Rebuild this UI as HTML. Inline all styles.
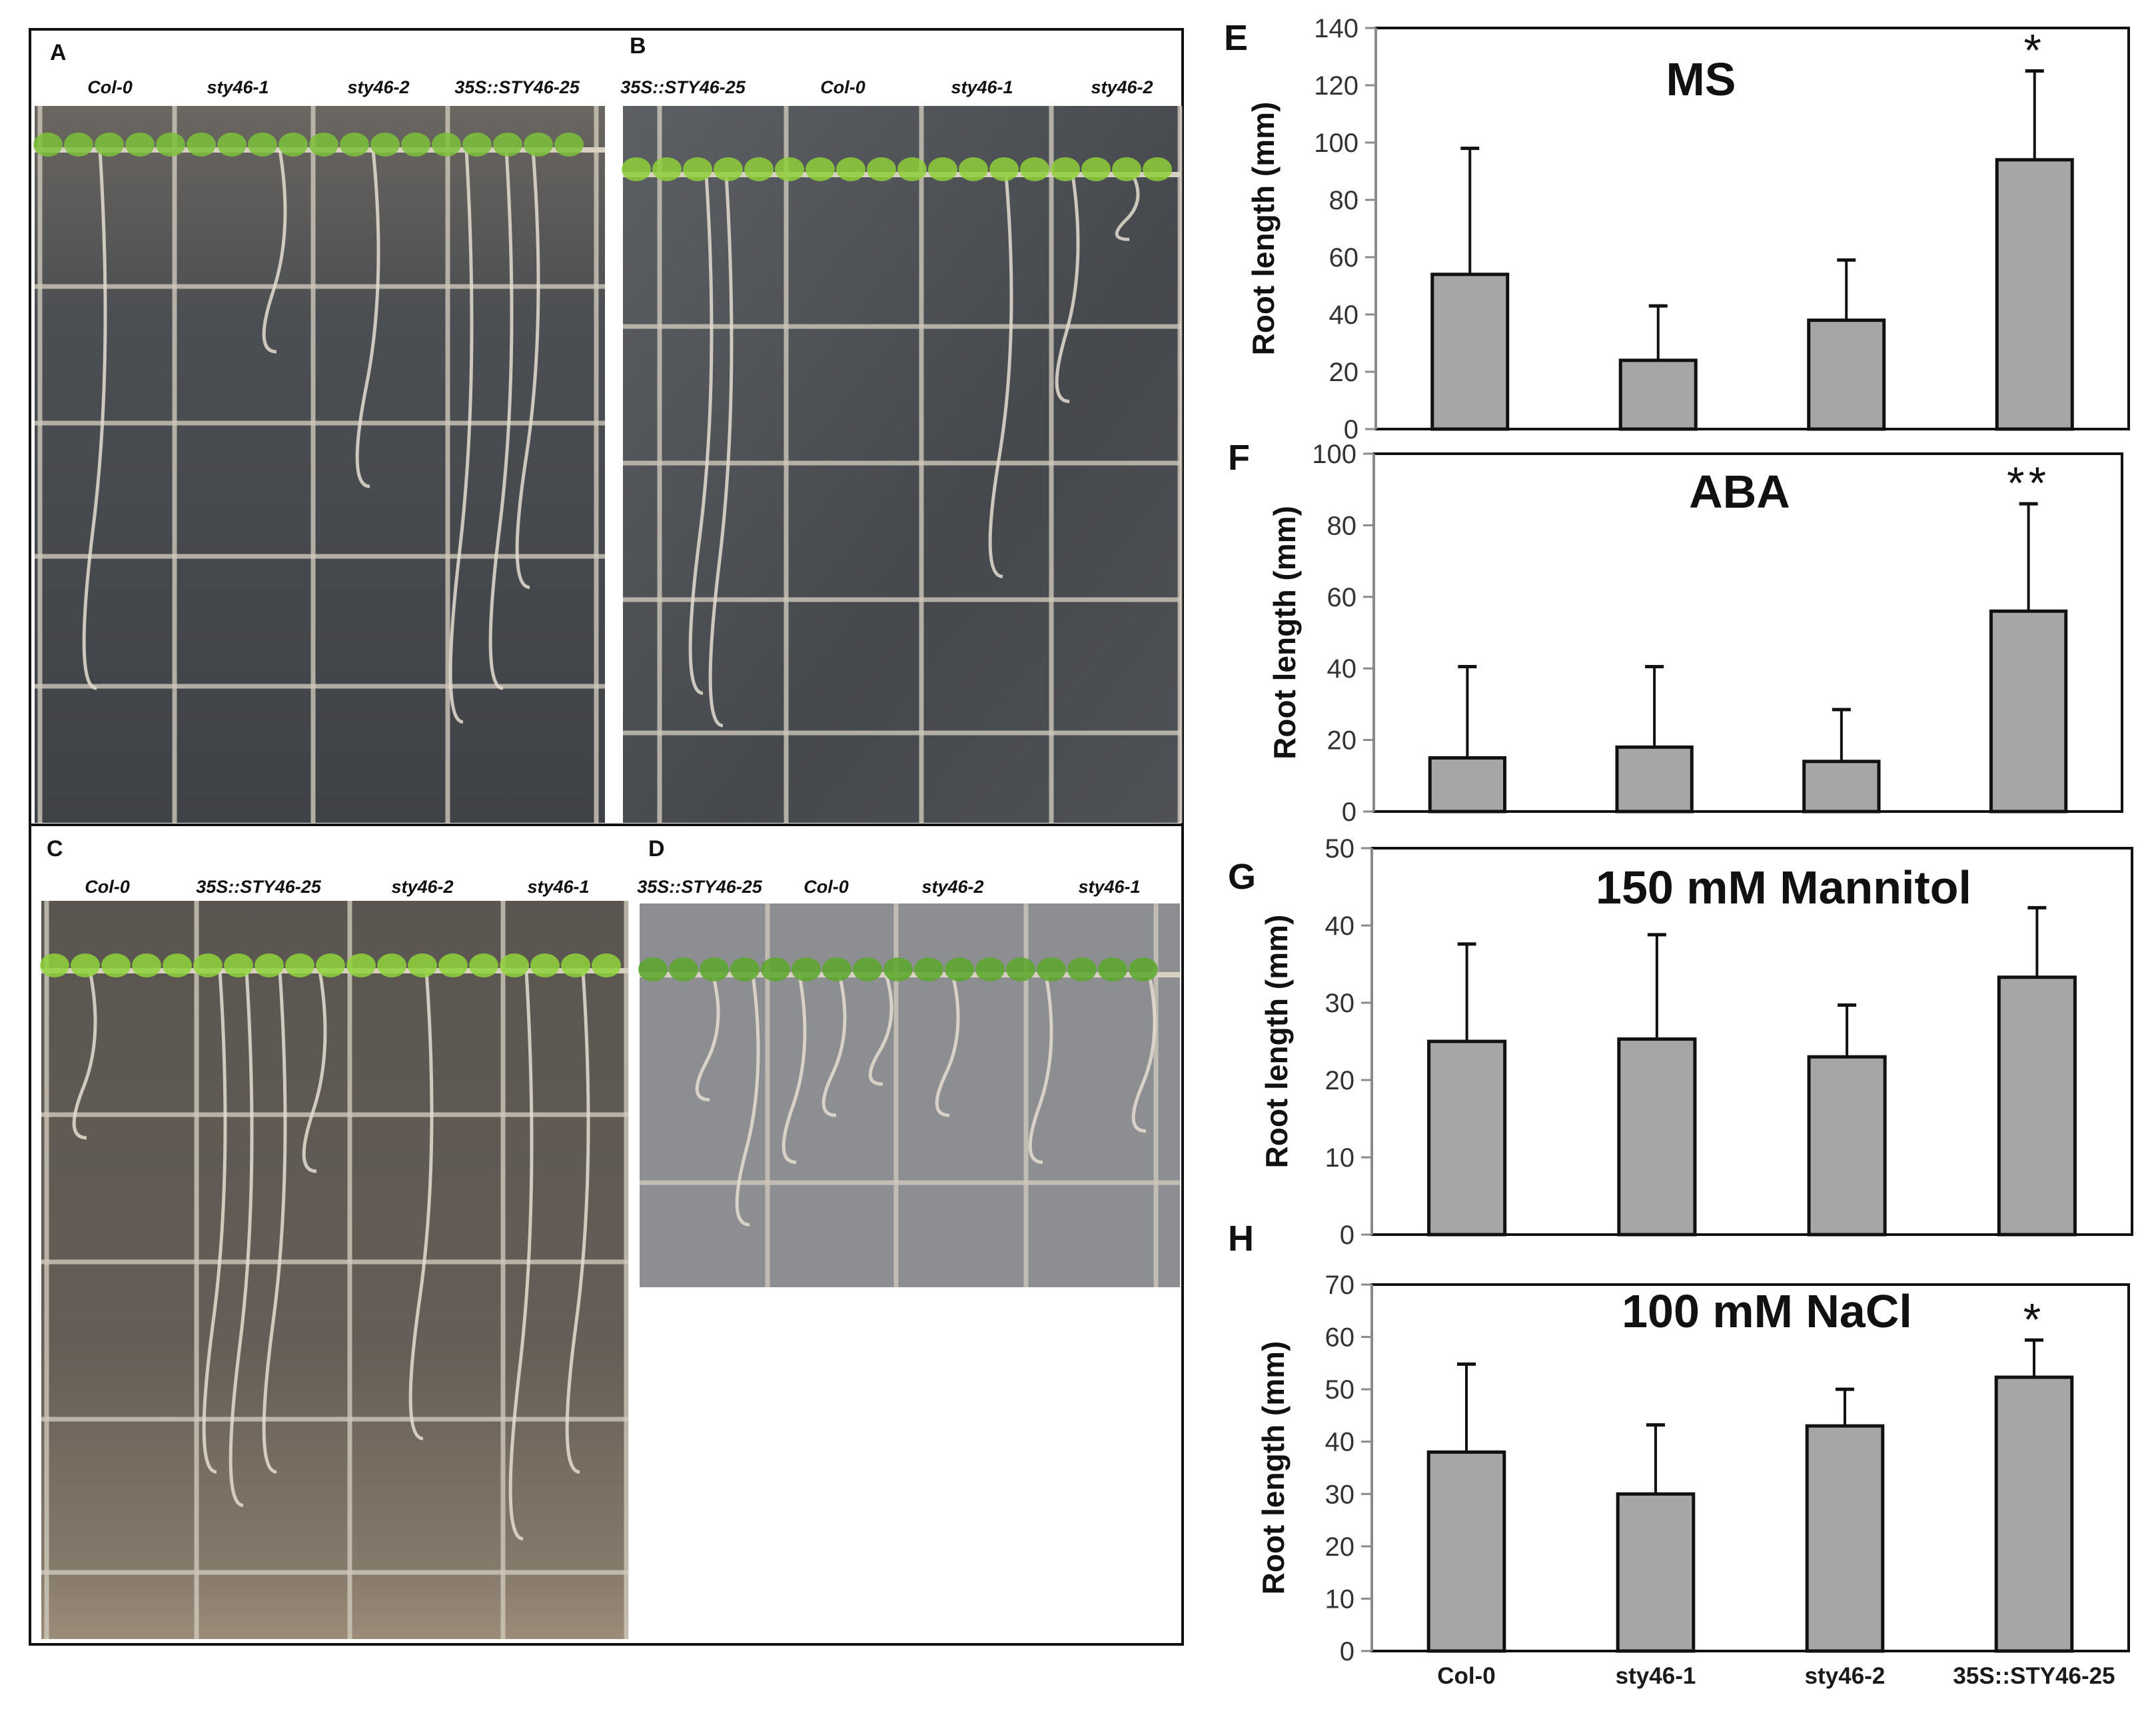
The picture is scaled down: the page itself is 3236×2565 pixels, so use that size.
<!DOCTYPE html>
<html><head><meta charset="utf-8"><style>
html,body{margin:0;padding:0;background:#fff;}
svg{display:block;}
.t{font-family:"Liberation Sans",sans-serif;}
</style></head><body>
<svg id="fig" width="3236" height="2565" viewBox="0 0 3236 2565" xmlns="http://www.w3.org/2000/svg">
<defs>
<linearGradient id="gA" x1="0" y1="0" x2="0" y2="1"><stop offset="0" stop-color="#6b6660"/><stop offset="0.3" stop-color="#4b4e52"/><stop offset="1" stop-color="#3f4246"/></linearGradient>
<linearGradient id="gB" x1="0" y1="0" x2="1" y2="1"><stop offset="0" stop-color="#5c5f63"/><stop offset="0.6" stop-color="#45484c"/><stop offset="1" stop-color="#4e5155"/></linearGradient>
<linearGradient id="gC" x1="0" y1="0" x2="0" y2="1"><stop offset="0" stop-color="#5a5550"/><stop offset="0.6" stop-color="#655e56"/><stop offset="0.9" stop-color="#85796a"/><stop offset="1" stop-color="#9a8c78"/></linearGradient>
</defs>
<g id="photos"></g>
<g id="charts"></g>
</svg>
<script>
const NS="http://www.w3.org/2000/svg";
function mk(tag,attrs,parent,text){const e=document.createElementNS(NS,tag);for(const k in attrs)e.setAttribute(k,attrs[k]);if(text!==undefined)e.textContent=text;parent.appendChild(e);return e;}

/* ---------- Chart data ---------- */
const categories=["Col-0","sty46-1","sty46-2","35S::STY46-25"];
const msMeans=[54,24,38,94];
const msErr=[98,43,59,125];
const abaMeans=[15,18,14,56];
const abaErr=[40.5,40.5,28.5,86];
const manMeans=[25,25.3,23,33.3];
const manErr=[37.6,38.8,29.7,42.3];
const naclMeans=[38,30,43,52.3];
const naclErr=[54.8,43.2,50,59.4];
const msTicks=[0,20,40,60,80,100,120,140];
const abaTicks=[0,20,40,60,80,100];
const manTicks=[0,10,20,30,40,50];
const naclTicks=[0,10,20,30,40,50,60,70];
const msSig=["","","","*"];
const abaSig=["","","","**"];
const manSig=["","","",""];
const naclSig=["","","","*"];

const panels=[
 {id:"ms",letter:"E",title:"MS",means:msMeans,err:msErr,ticks:msTicks,sig:msSig,x0:2065,x1:3195,y0:42,y1:644,lx:1837,ly:75,tx:2553,ty:143,ytx:1900,xl:false},
 {id:"aba",letter:"F",title:"ABA",means:abaMeans,err:abaErr,ticks:abaTicks,sig:abaSig,x0:2062,x1:3185,y0:681,y1:1218,lx:1843,ly:705,tx:2611,ty:762,ytx:1932,xl:false},
 {id:"mannitol",letter:"G",title:"150 mM Mannitol",means:manMeans,err:manErr,ticks:manTicks,sig:manSig,x0:2059,x1:3200,y0:1273,y1:1853,lx:1843,ly:1334,tx:2677,ty:1356,ytx:1920,xl:false},
 {id:"nacl",letter:"H",title:"100 mM NaCl",means:naclMeans,err:naclErr,ticks:naclTicks,sig:naclSig,x0:2059,x1:3195,y0:1928,y1:2478,lx:1843,ly:1877,tx:2652,ty:1992,ytx:1915,xl:true}
];
const charts=document.getElementById('charts');
panels.forEach(p=>{
 const g=mk('g',{},charts);
 
 
 const max=p.ticks[p.ticks.length-1];
 const ys=v=>p.y1-(v/max)*(p.y1-p.y0);
 const n=categories.length, step=(p.x1-p.x0)/n;
 const xc=i=>p.x0+step*(i+0.5);
 const bw=step*0.4;
 const box=mk('rect',{x:p.x0,y:p.y0,width:p.x1-p.x0,height:p.y1-p.y0,fill:'#fff',stroke:'#111','stroke-width':4},g);
 
 
 const ax=mk('line',{x1:p.x0,y1:p.y0,x2:p.x0,y2:p.y1,stroke:'#8a8a8a','stroke-width':4},g);
 
 
 p.ticks.forEach(t=>{
  const y=ys(t);
  mk('line',{x1:p.x0-16,y1:y,x2:p.x0,y2:y,stroke:'#8a8a8a','stroke-width':3},g);
  const tl=mk('text',{x:p.x0-26,y:y+14,'text-anchor':'end','font-size':40,fill:'#333',class:'t'},g,String(t));
  
  
 });
 p.means.forEach((v,i)=>{
  const x=xc(i);
  const eb=mk('line',{x1:x,y1:ys(v),x2:x,y2:ys(p.err[i]),stroke:'#111','stroke-width':4},g);
  
  
  mk('line',{x1:x-14,y1:ys(p.err[i]),x2:x+14,y2:ys(p.err[i]),stroke:'#111','stroke-width':5},g);
  const b=mk('rect',{x:x-bw/2,y:ys(v),width:bw,height:p.y1-ys(v),fill:'#a6a6a6',stroke:'#111','stroke-width':5},g);
  
  
  if(p.sig[i]){
   const s=mk('text',{x:x,y:ys(p.err[i])-8,'text-anchor':'middle','font-size':68,fill:'#111',class:'t','letter-spacing':'6'},g,p.sig[i]);
   
   
  }
  if(p.xl){
   const xl=mk('text',{x:x,y:2527,'text-anchor':'middle','font-size':35,'font-weight':'bold',fill:'#1a1a1a',class:'t'},g,categories[i]);
   
   
  }
 });
 const ti=mk('text',{x:p.tx,y:p.ty,'text-anchor':'middle','font-size':70,'font-weight':'bold',fill:'#111',class:'t'},g,p.title);
 
 
 const le=mk('text',{x:p.lx,y:p.ly,'font-size':54,'font-weight':'bold',fill:'#111',class:'t'},g,p.letter);
 
 
 const cy=(p.y0+p.y1)/2;
 const yt=mk('text',{x:p.ytx,y:cy,transform:`rotate(-90 ${p.ytx} ${cy})`,'text-anchor':'middle','font-size':46,'font-weight':'bold',fill:'#111',class:'t','dominant-baseline':'middle'},g,'Root length (mm)');
 
 
});

/* ---------- Photo panels (decorative) ---------- */
const photos=document.getElementById('photos');
const frame=mk('rect',{x:45,y:44,width:1730,height:2424,fill:'#fff',stroke:'#111','stroke-width':4},photos);


mk('line',{x1:45,y1:1238,x2:1775,y2:1238,stroke:'#111','stroke-width':4},photos);
const plates=[
 {id:"a",L:"A",lx:75,ly:90,x:52,y:159,w:856,h:1076,fill:"url(#gA)",labels:["Col-0","sty46-1","sty46-2","35S::STY46-25"],lxs:[165,357,568,776],laby:140,vx:[60,262,470,672,895],hy:[225,430,635,835,1030],sy:225,roots:[[150,0.8],[420,0.3],[560,0.5],[700,0.85],[760,0.8],[800,0.65]],leaf:"#7dc23a"},
 {id:"b",L:"B",lx:945,ly:80,x:935,y:159,w:836,h:1076,fill:"url(#gB)",labels:["35S::STY46-25","Col-0","sty46-1","sty46-2"],lxs:[1025,1265,1474,1684],laby:140,vx:[990,1180,1383,1578,1771],hy:[490,695,900,1100],sy:262,roots:[[1060,0.8],[1090,0.85],[1510,0.62],[1610,0.35],[1700,0.1]],leaf:"#8fcf3a"},
 {id:"c",L:"C",lx:70,ly:1285,x:62,y:1352,w:881,h:1108,fill:"url(#gC)",labels:["Col-0","35S::STY46-25","sty46-2","sty46-1"],lxs:[161,388,634,838],laby:1340,vx:[70,295,525,755,940],hy:[1673,1894,2130,2360],sy:1457,roots:[[135,0.25],[330,0.75],[370,0.8],[420,0.75],[480,0.3],[640,0.7],[790,0.85],[875,0.75]],leaf:"#8fd43a"},
 {id:"d",L:"D",lx:973,ly:1285,x:960,y:1356,w:811,h:576,fill:"#8c8e91",labels:["35S::STY46-25","Col-0","sty46-2","sty46-1"],lxs:[1050,1240,1430,1665],laby:1340,vx:[1152,1345,1540,1735],hy:[1775],sy:1463,roots:[[1070,0.4],[1130,0.8],[1200,0.6],[1260,0.45],[1330,0.35],[1430,0.45],[1570,0.6],[1725,0.5]],leaf:"#5aa82a"}
];
plates.forEach(pl=>{
 const g=mk('g',{},photos);
 
 
 mk('rect',{x:pl.x,y:pl.y,width:pl.w,height:pl.h,fill:pl.fill},g);
 pl.vx.forEach(x=>mk('line',{x1:x,y1:pl.y,x2:x,y2:pl.y+pl.h,stroke:'#cfc8bb','stroke-width':7,opacity:0.8},g));
 pl.hy.forEach(y=>mk('line',{x1:pl.x,y1:y,x2:pl.x+pl.w,y2:y,stroke:'#cfc8bb','stroke-width':7,opacity:0.8},g));
 mk('line',{x1:pl.x,y1:pl.sy,x2:pl.x+pl.w,y2:pl.sy,stroke:'#d8d0c0','stroke-width':8},g);
 pl.roots.forEach(r=>{
  const len=r[1]*(pl.y+pl.h-pl.sy);
  mk('path',{d:`M${r[0]} ${pl.sy} q 20 ${len*0.4} -10 ${len*0.7} t 5 ${len*0.3}`,stroke:'#e4ddd0','stroke-width':5,fill:'none',opacity:0.85},g);
 });
 for(let x=pl.x+20;x<pl.x+pl.w-10;x+=46){
  mk('ellipse',{cx:x,cy:pl.sy-8,rx:22,ry:18,fill:pl.leaf,opacity:0.85},g);
 }
 const le=mk('text',{x:pl.lx,y:pl.ly,'font-size':34,'font-weight':'bold',fill:'#111',class:'t'},g,pl.L);
 
 
 pl.labels.forEach((t,i)=>{
  const tl=mk('text',{x:pl.lxs[i],y:pl.laby,'text-anchor':'middle','font-size':27,'font-weight':'bold','font-style':'italic',fill:'#111',class:'t'},g,t);
  
  
 });
});
</script>
</body></html>
